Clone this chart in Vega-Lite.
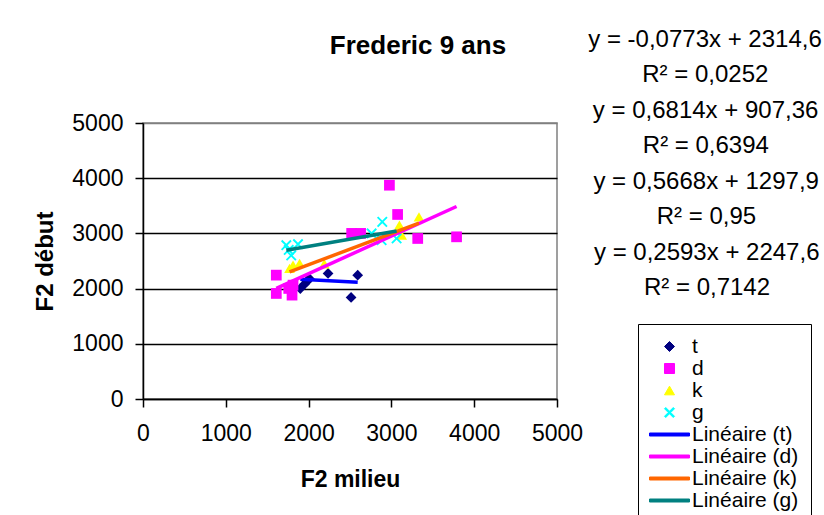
{
  "$schema": "https://vega.github.io/schema/vega-lite/v6.json",
  "autosize": {"type": "none"},
  "width": 414,
  "height": 276,
  "padding": {"left": 143, "top": 123, "right": 267, "bottom": 116},
  "background": "white",
  "title": {
    "text": "Frederic 9 ans",
    "font": "Liberation Sans",
    "fontSize": 26,
    "fontWeight": "bold",
    "color": "black",
    "anchor": "middle",
    "frame": "group",
    "dx": 68,
    "offset": -31
  },
  "config": {
    "view": {"stroke": "#808080", "strokeWidth": 1.5},
    "font": "Liberation Sans"
  },
  "datasets": {
    "pts": [
      {"key": "t", "x": 1900, "y": 2000},
      {"key": "t", "x": 1950, "y": 2080},
      {"key": "t", "x": 1980, "y": 2130},
      {"key": "t", "x": 2010, "y": 2180},
      {"key": "t", "x": 2235, "y": 2275},
      {"key": "t", "x": 2513, "y": 1841},
      {"key": "t", "x": 2593, "y": 2244},
      {"key": "d", "x": 1610, "y": 2244},
      {"key": "d", "x": 1610, "y": 1912},
      {"key": "d", "x": 1800, "y": 1882},
      {"key": "d", "x": 1760, "y": 2003},
      {"key": "d", "x": 1812, "y": 2063},
      {"key": "d", "x": 2520, "y": 3000},
      {"key": "d", "x": 2628, "y": 3000},
      {"key": "d", "x": 2976, "y": 3873},
      {"key": "d", "x": 3075, "y": 3343},
      {"key": "d", "x": 3318, "y": 2908},
      {"key": "d", "x": 3787, "y": 2938},
      {"key": "k", "x": 1770, "y": 2365},
      {"key": "k", "x": 1812, "y": 2425},
      {"key": "k", "x": 1891, "y": 2456},
      {"key": "k", "x": 2190, "y": 2450},
      {"key": "k", "x": 3097, "y": 3150},
      {"key": "k", "x": 3124, "y": 2968},
      {"key": "k", "x": 3333, "y": 3300},
      {"key": "g", "x": 1731, "y": 2787},
      {"key": "g", "x": 1760, "y": 2700},
      {"key": "g", "x": 1790, "y": 2600},
      {"key": "g", "x": 1872, "y": 2805},
      {"key": "g", "x": 2761, "y": 3000},
      {"key": "g", "x": 2882, "y": 2878},
      {"key": "g", "x": 2890, "y": 3209},
      {"key": "g", "x": 3063, "y": 2908}
    ],
    "trend": [
      {"key": "Linéaire (t)", "x": 1900, "y": 2167.7},
      {"key": "Linéaire (t)", "x": 2593, "y": 2114.2},
      {"key": "Linéaire (d)", "x": 1610, "y": 2004.4},
      {"key": "Linéaire (d)", "x": 3787, "y": 3487.8},
      {"key": "Linéaire (k)", "x": 1770, "y": 2301.1},
      {"key": "Linéaire (k)", "x": 3333, "y": 3187.1},
      {"key": "Linéaire (g)", "x": 1731, "y": 2696.5},
      {"key": "Linéaire (g)", "x": 3063, "y": 3041.8}
    ],
    "eq": [
      {"row": 0, "label": "y = -0,0773x + 2314,6"},
      {"row": 1, "label": "R² = 0,0252"},
      {"row": 2, "label": "y = 0,6814x + 907,36"},
      {"row": 3, "label": "R² = 0,6394"},
      {"row": 4, "label": "y = 0,5668x + 1297,9"},
      {"row": 5, "label": "R² = 0,95"},
      {"row": 6, "label": "y = 0,2593x + 2247,6"},
      {"row": 7, "label": "R² = 0,7142"}
    ]
  },
  "layer": [
    {
      "data": {"name": "pts"},
      "mark": {"type": "point", "filled": true, "opacity": 1, "size": 115},
      "encoding": {
        "x": {
          "field": "x", "type": "quantitative",
          "scale": {"domain": [0, 5000], "nice": false, "zero": true},
          "axis": {
            "orient": "bottom",
            "title": "F2 milieu",
            "values": [0, 1000, 2000, 3000, 4000, 5000],
            "format": "d",
            "grid": false,
            "domainColor": "black", "domainWidth": 1.5,
            "tickColor": "black", "tickWidth": 1.5, "tickSize": 8,
            "labelFont": "Liberation Sans", "labelFontSize": 23, "labelColor": "black",
            "labelPadding": 15, "labelFlush": false, "labelOverlap": false,
            "titleFont": "Liberation Sans", "titleFontSize": 23, "titleFontWeight": "bold",
            "titleColor": "black", "titlePadding": 23
          }
        },
        "y": {
          "field": "y", "type": "quantitative",
          "scale": {"domain": [0, 5000], "nice": false, "zero": true},
          "axis": {
            "orient": "left",
            "title": "F2 début",
            "values": [0, 1000, 2000, 3000, 4000, 5000],
            "format": "d",
            "grid": true,
            "gridColor": {"condition": {"test": "datum.value === 5000", "value": "#808080"}, "value": "#000000"},
            "gridWidth": 1.5,
            "domainColor": "black", "domainWidth": 1.5,
            "tickColor": "black", "tickWidth": 1.5, "tickSize": 8,
            "labelFont": "Liberation Sans", "labelFontSize": 23, "labelColor": "black",
            "labelPadding": 12, "labelFlush": false, "labelOverlap": false,
            "titleFont": "Liberation Sans", "titleFontSize": 24, "titleFontWeight": "bold",
            "titleColor": "black", "titlePadding": 14
          }
        },
        "color": {
          "field": "key", "type": "nominal",
          "scale": {
            "domain": ["t", "d", "k", "g", "Linéaire (t)", "Linéaire (d)", "Linéaire (k)", "Linéaire (g)"],
            "range": ["#000080", "#FF00FF", "#FFFF00", "#00FFFF", "#0000FF", "#FF00FF", "#FF6600", "#008080"]
          },
          "legend": {
            "title": null,
            "orient": "none",
            "legendX": 495,
            "legendY": 201,
            "strokeColor": "black",
            "fillColor": "white",
            "padding": 12,
            "symbolSize": 100,
            "symbolStrokeWidth": 1,
            "symbolOffset": 9,
            "labelOffset": 12,
            "labelFont": "Liberation Sans",
            "labelFontSize": 21,
            "labelColor": "black",
            "labelLimit": 300,
            "rowPadding": 0
          }
        },
        "shape": {
          "field": "key", "type": "nominal",
          "scale": {
            "domain": ["t", "d", "k", "g", "Linéaire (t)", "Linéaire (d)", "Linéaire (k)", "Linéaire (g)"],
            "range": ["diamond", "square", "triangle-up", "M-1,-0.75L-0.75,-1L0,-0.25L0.75,-1L1,-0.75L0.25,0L1,0.75L0.75,1L0,0.25L-0.75,1L-1,0.75L-0.25,0Z", "M-4,-0.3L4,-0.3L4,0.3L-4,0.3Z", "M-4,-0.3L4,-0.3L4,0.3L-4,0.3Z", "M-4,-0.3L4,-0.3L4,0.3L-4,0.3Z", "M-4,-0.3L4,-0.3L4,0.3L-4,0.3Z"]
          },
          "legend": {
            "title": null,
            "orient": "none",
            "legendX": 495,
            "legendY": 201,
            "strokeColor": "black",
            "fillColor": "white",
            "padding": 12,
            "symbolSize": 100,
            "symbolStrokeWidth": 1,
            "symbolOffset": 9,
            "labelOffset": 12,
            "labelFont": "Liberation Sans",
            "labelFontSize": 21,
            "labelColor": "black",
            "labelLimit": 300,
            "rowPadding": 0
          }
        }
      }
    },
    {
      "data": {"name": "trend"},
      "mark": {"type": "line", "strokeWidth": 3.5},
      "encoding": {
        "x": {"field": "x", "type": "quantitative", "scale": {"domain": [0, 5000], "nice": false, "zero": true}, "axis": null},
        "y": {"field": "y", "type": "quantitative", "scale": {"domain": [0, 5000], "nice": false, "zero": true}, "axis": null},
        "color": {"field": "key", "type": "nominal"},
        "order": {"field": "x", "type": "quantitative"}
      }
    },
    {
      "data": {"name": "eq"},
      "mark": {"type": "text", "font": "Liberation Sans", "fontSize": 24, "color": "black", "align": "center", "baseline": "middle"},
      "encoding": {
        "text": {"field": "label", "type": "nominal"},
        "x": {"field": "row", "type": "quantitative", "scale": {"domain": [0, 7], "range": [562, 564], "zero": false, "nice": false}, "axis": null},
        "y": {"field": "row", "type": "quantitative", "scale": {"domain": [0, 7], "range": [-83, 165], "zero": false, "nice": false}, "axis": null}
      }
    }
  ],
  "resolve": {"scale": {"x": "independent", "y": "independent"}}
}
